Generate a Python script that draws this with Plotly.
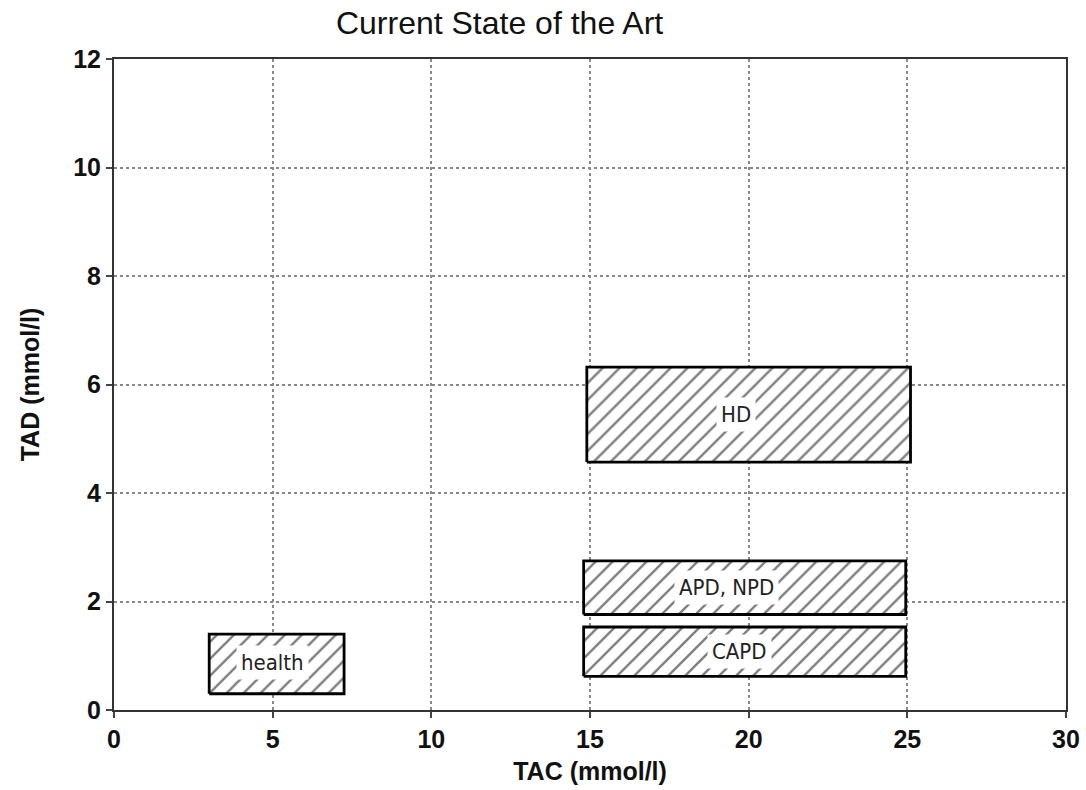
import plotly.graph_objects as go

# Data: rectangles (TAC range, TAD range) per group
labels = ["health", "CAPD", "APD, NPD", "HD"]
tac_lo = [3.0, 14.8, 14.8, 14.9]
tac_hi = [7.25, 24.95, 24.95, 25.1]
tad_lo = [0.3, 0.62, 1.76, 4.57]
tad_hi = [1.4, 1.53, 2.75, 6.32]
label_x = [5.0, 19.7, 19.3, 19.6]
label_y = [0.87, 1.08, 2.25, 5.45]

x_ticks = [0, 5, 10, 15, 20, 25, 30]
y_ticks = [0, 2, 4, 6, 8, 10, 12]

fig = go.Figure()
for i, name in enumerate(labels):
    xs = [tac_lo[i], tac_hi[i], tac_hi[i], tac_lo[i], tac_lo[i]]
    ys = [tad_lo[i], tad_lo[i], tad_hi[i], tad_hi[i], tad_lo[i]]
    fig.add_trace(go.Scatter(
        x=xs, y=ys, mode="lines", fill="toself",
        fillcolor="white",
        fillpattern=dict(shape="/", fgcolor="black", bgcolor="white", size=12, solidity=0.2),
        line=dict(color="black", width=2.8),
        showlegend=False, hoverinfo="skip"))
    fig.add_annotation(x=label_x[i], y=label_y[i], text=name, showarrow=False,
                       bgcolor="white", borderpad=4,
                       font=dict(family="DejaVu Sans Condensed, Liberation Sans, Arial", size=22, color="#222"))

fig.update_layout(
    width=1086, height=790,
    paper_bgcolor="white", plot_bgcolor="white",
    margin=dict(l=114, r=20, t=59, b=80),
    title=dict(text="Current State of the Art", x=0.46, xanchor="center", y=0.985, yanchor="top",
               font=dict(family="Liberation Sans, Arial", size=32, color="#111")),
    showlegend=False,
)
fig.update_xaxes(range=[0, 30], tickvals=x_ticks, ticks="outside", ticklen=6, tickwidth=2,
                 automargin=False,
                 showline=True, linecolor="#333", linewidth=2, mirror=True,
                 showgrid=True, gridcolor="#888", griddash="dot", gridwidth=1.5,
                 zeroline=False,
                 tickfont=dict(family="Liberation Sans, Arial", size=25, color="#111", weight="bold"),
                 title=dict(text="<b>TAC (mmol/l)</b>", font=dict(family="Liberation Sans, Arial", size=25, color="#111"), standoff=10))
fig.update_yaxes(range=[0, 12], tickvals=y_ticks, ticks="outside", ticklen=6, tickwidth=2,
                 automargin=False,
                 showline=True, linecolor="#333", linewidth=2, mirror=True,
                 showgrid=True, gridcolor="#888", griddash="dot", gridwidth=1.5,
                 zeroline=False,
                 tickfont=dict(family="Liberation Sans, Arial", size=25, color="#111", weight="bold"),
                 title=dict(text="<b>TAD (mmol/l)</b>", font=dict(family="Liberation Sans, Arial", size=25, color="#111"), standoff=26))

fig.write_html("out.html")
